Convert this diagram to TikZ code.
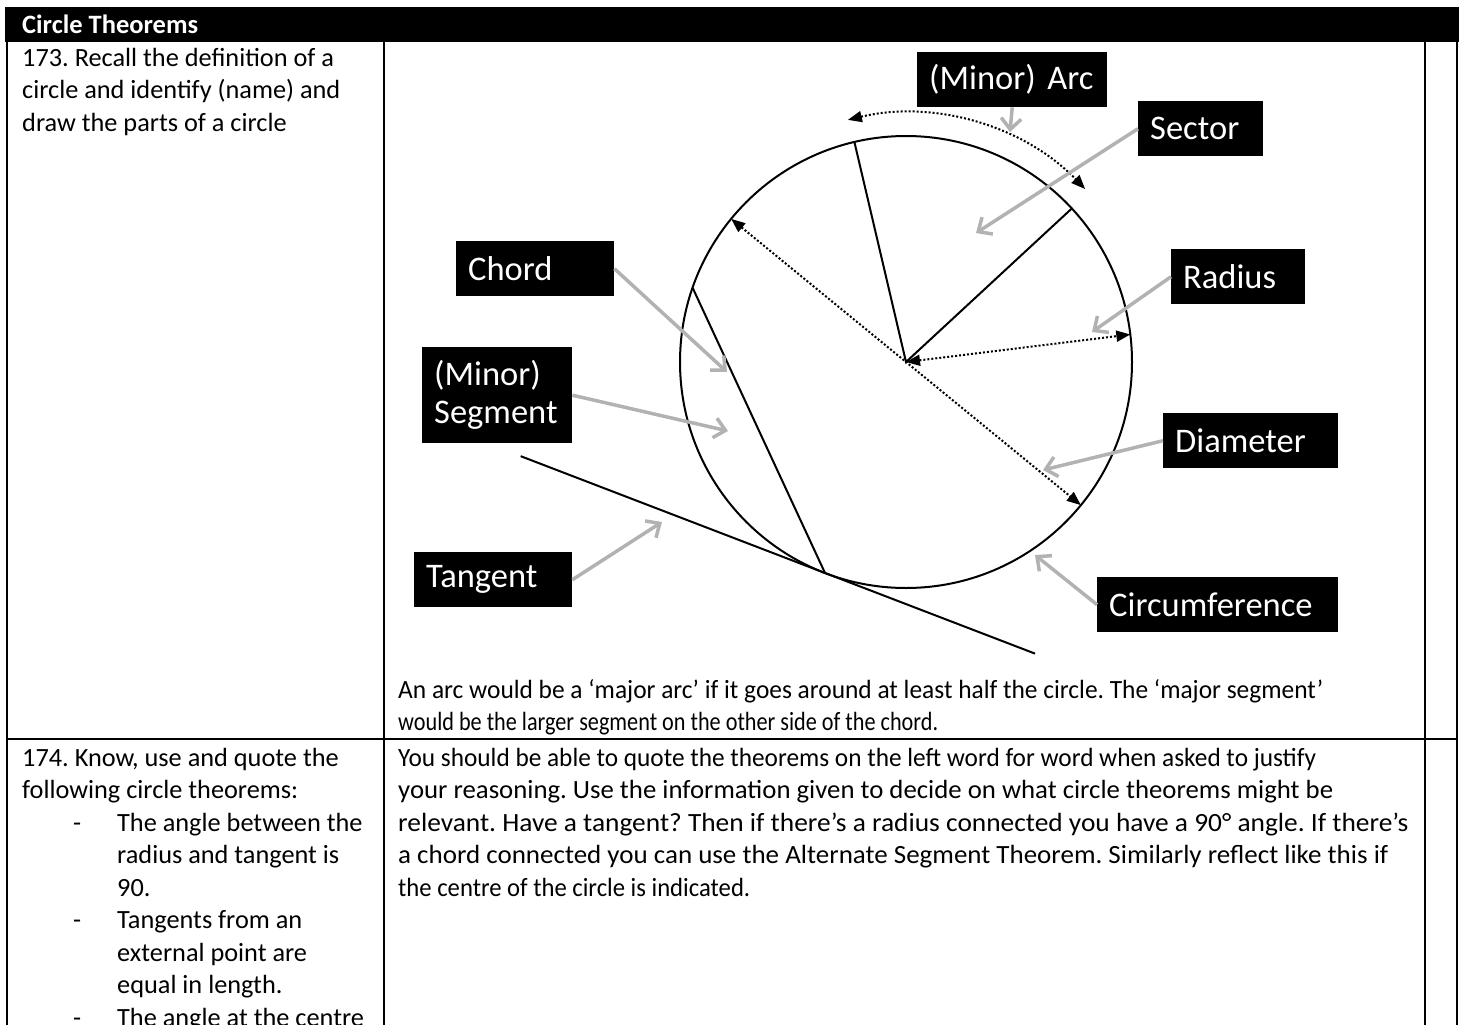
\documentclass[tikz,border=0pt]{standalone}
\usepackage{fontspec}
\setmainfont{Carlito}
\usepackage{graphicx}
\usetikzlibrary{arrows.meta, calc, positioning}
\frenchspacing
\newcommand{\bodysize}{\fontsize{26.3}{32.5}\selectfont}
\newcommand{\tagsize}{\fontsize{34.5}{38}\selectfont}
\newcommand{\fitline}[2]{\resizebox{#1pt}{\height}{#2}}
\newcommand{\tdash}{\makebox[95pt][l]{\hspace{51pt}-}}
\newcommand{\tgap}{\hspace*{95pt}}
\tikzset{
  rule/.style = {line width=2.6pt},
  body/.style = {anchor=base west, align=left, inner sep=0pt, font=\bodysize},
  tag/.style = {fill=black, text=white, font=\tagsize, anchor=north west,
                align=left, inner xsep=12pt, inner ysep=0pt, minimum height=55pt},
  pointer/.style = {draw=black!30, line width=3.5pt,
                    arrows={-Straight Barb[length=11pt, width=20pt]}},
  rim/.style = {line width=2pt},
  measure/.style = {line width=2pt, dash pattern=on 2pt off 2pt,
                    arrows={Triangle[length=14pt, width=11pt]-Triangle[length=14pt, width=11pt]}},
}

\begin{document}
\begin{tikzpicture}[x=1pt, y=-1pt]
  \useasboundingbox (0,0) rectangle (1464,1025);
  \clip (0,0) rectangle (1464,1025);

  % Table frame
  \fill (5,7) rectangle (1459,42);
  \node (title) [anchor=base west, inner sep=0pt, text=white,
    font=\bfseries\fontsize{26.5}{30}\selectfont] at (22,34) {Circle Theorems};
  \foreach \x in {7, 384, 1425, 1457}
    \draw [rule] (\x,42) -- (\x,1030);
  \draw [rule] (7,739) -- (1457,739);

  % Left column (base is the last line)
  \node (recall) [body] at (22,131)
    {173. Recall the definition of a\\circle and identify (name) and\\draw the parts of a circle};
  \node (theorems) [body] at (22,1026)
    {174. Know, use and quote the\\following circle theorems:\\
     \tdash The angle between the\\\tgap radius and tangent is\\\tgap 90.\\
     \tdash Tangents from an\\\tgap external point are\\\tgap equal in length.\\
     \tdash The angle at the centre};

  % Right column notes
  \node (majornote) [body] at (398,730.5)
    {\fitline{925}{An arc would be a ‘major arc’ if it goes around at least half the circle. The ‘major segment’}\\
     \fitline{540}{would be the larger segment on the other side of the chord.}};
  \node (quotenote) [body] at (398,896)
    {\fitline{918}{You should be able to quote the theorems on the left word for word when asked to justify}\\
     \fitline{935}{your reasoning. Use the information given to decide on what circle theorems might be}\\
     \fitline{1010}{relevant. Have a tangent? Then if there’s a radius connected you have a 90° angle. If there’s}\\
     \fitline{990}{a chord connected you can use the Alternate Segment Theorem. Similarly reflect like this if}\\
     \fitline{352}{the centre of the circle is indicated.}};

  % The circle and its parts
  \coordinate (O) at (906,362);
  \begin{scope}[shift={(O)}, y=1pt]
    \draw [rim] (0,0) circle [radius=226];
    \coordinate (rad1) at (103.2:226);
    \coordinate (rad2) at (42.8:226);
    \coordinate (chordA) at (160.8:226);
    \coordinate (touch) at (249:226);
    \coordinate (diaA) at (140.7:226);
    \coordinate (diaB) at (-39.3:226);
    \coordinate (radEnd) at (7:226);
    \draw [measure] (103.5:249) arc [start angle=103.5, end angle=44, radius=249];
  \end{scope}
  \coordinate (tanA) at ($(touch)!326pt!90:(O)$);
  \coordinate (tanB) at ($(touch)!225pt!-90:(O)$);
  \draw [rim] (rad1) -- (O) -- (rad2);
  \draw [rim] (chordA) -- (touch);
  \draw [rim] (tanA) -- (tanB);
  \draw [measure] (diaA) -- (diaB);
  \draw [measure] (O) -- (radEnd);

  % Labels
  \node (arcTag) [tag, text width=166pt] at (917,52) {(Minor) Arc};
  \node (sectorTag) [tag, text width=101pt] at (1138,101) {Sector};
  \node (chordTag) [tag, text width=134pt] at (456,241) {Chord};
  \node (segmentTag) [tag, text width=126pt, minimum height=96pt] at (422,347) {(Minor)\\Segment};
  \node (tangentTag) [tag, text width=134pt] at (414,552) {Tangent};
  \node (radiusTag) [tag, text width=110pt] at (1171,249) {Radius};
  \node (diameterTag) [tag, text width=151pt] at (1163,413) {Diameter};
  \node (circTag) [tag, text width=217pt] at (1097,577) {Circumference};

  % Pointers
  \coordinate (arcTip) at (1010,132);
  \coordinate (sectorTip) at (976,233);
  \coordinate (chordTip) at (727,372);
  \coordinate (segmentTip) at (728,431);
  \coordinate (tangentTip) at (662,522);
  \coordinate (radiusTip) at (1092,332);
  \coordinate (diameterTip) at (1043,470);
  \coordinate (circTip) at (1035,555);
  \draw [pointer] (arcTag.south) -- (arcTip);
  \draw [pointer] (sectorTag.west) -- (sectorTip);
  \draw [pointer] (chordTag.east) -- (chordTip);
  \draw [pointer] (segmentTag.east) -- (segmentTip);
  \draw [pointer] (tangentTag.east) -- (tangentTip);
  \draw [pointer] (radiusTag.west) -- (radiusTip);
  \draw [pointer] (diameterTag.west) -- (diameterTip);
  \draw [pointer] (circTag.west) -- (circTip);
\end{tikzpicture}
\end{document}
